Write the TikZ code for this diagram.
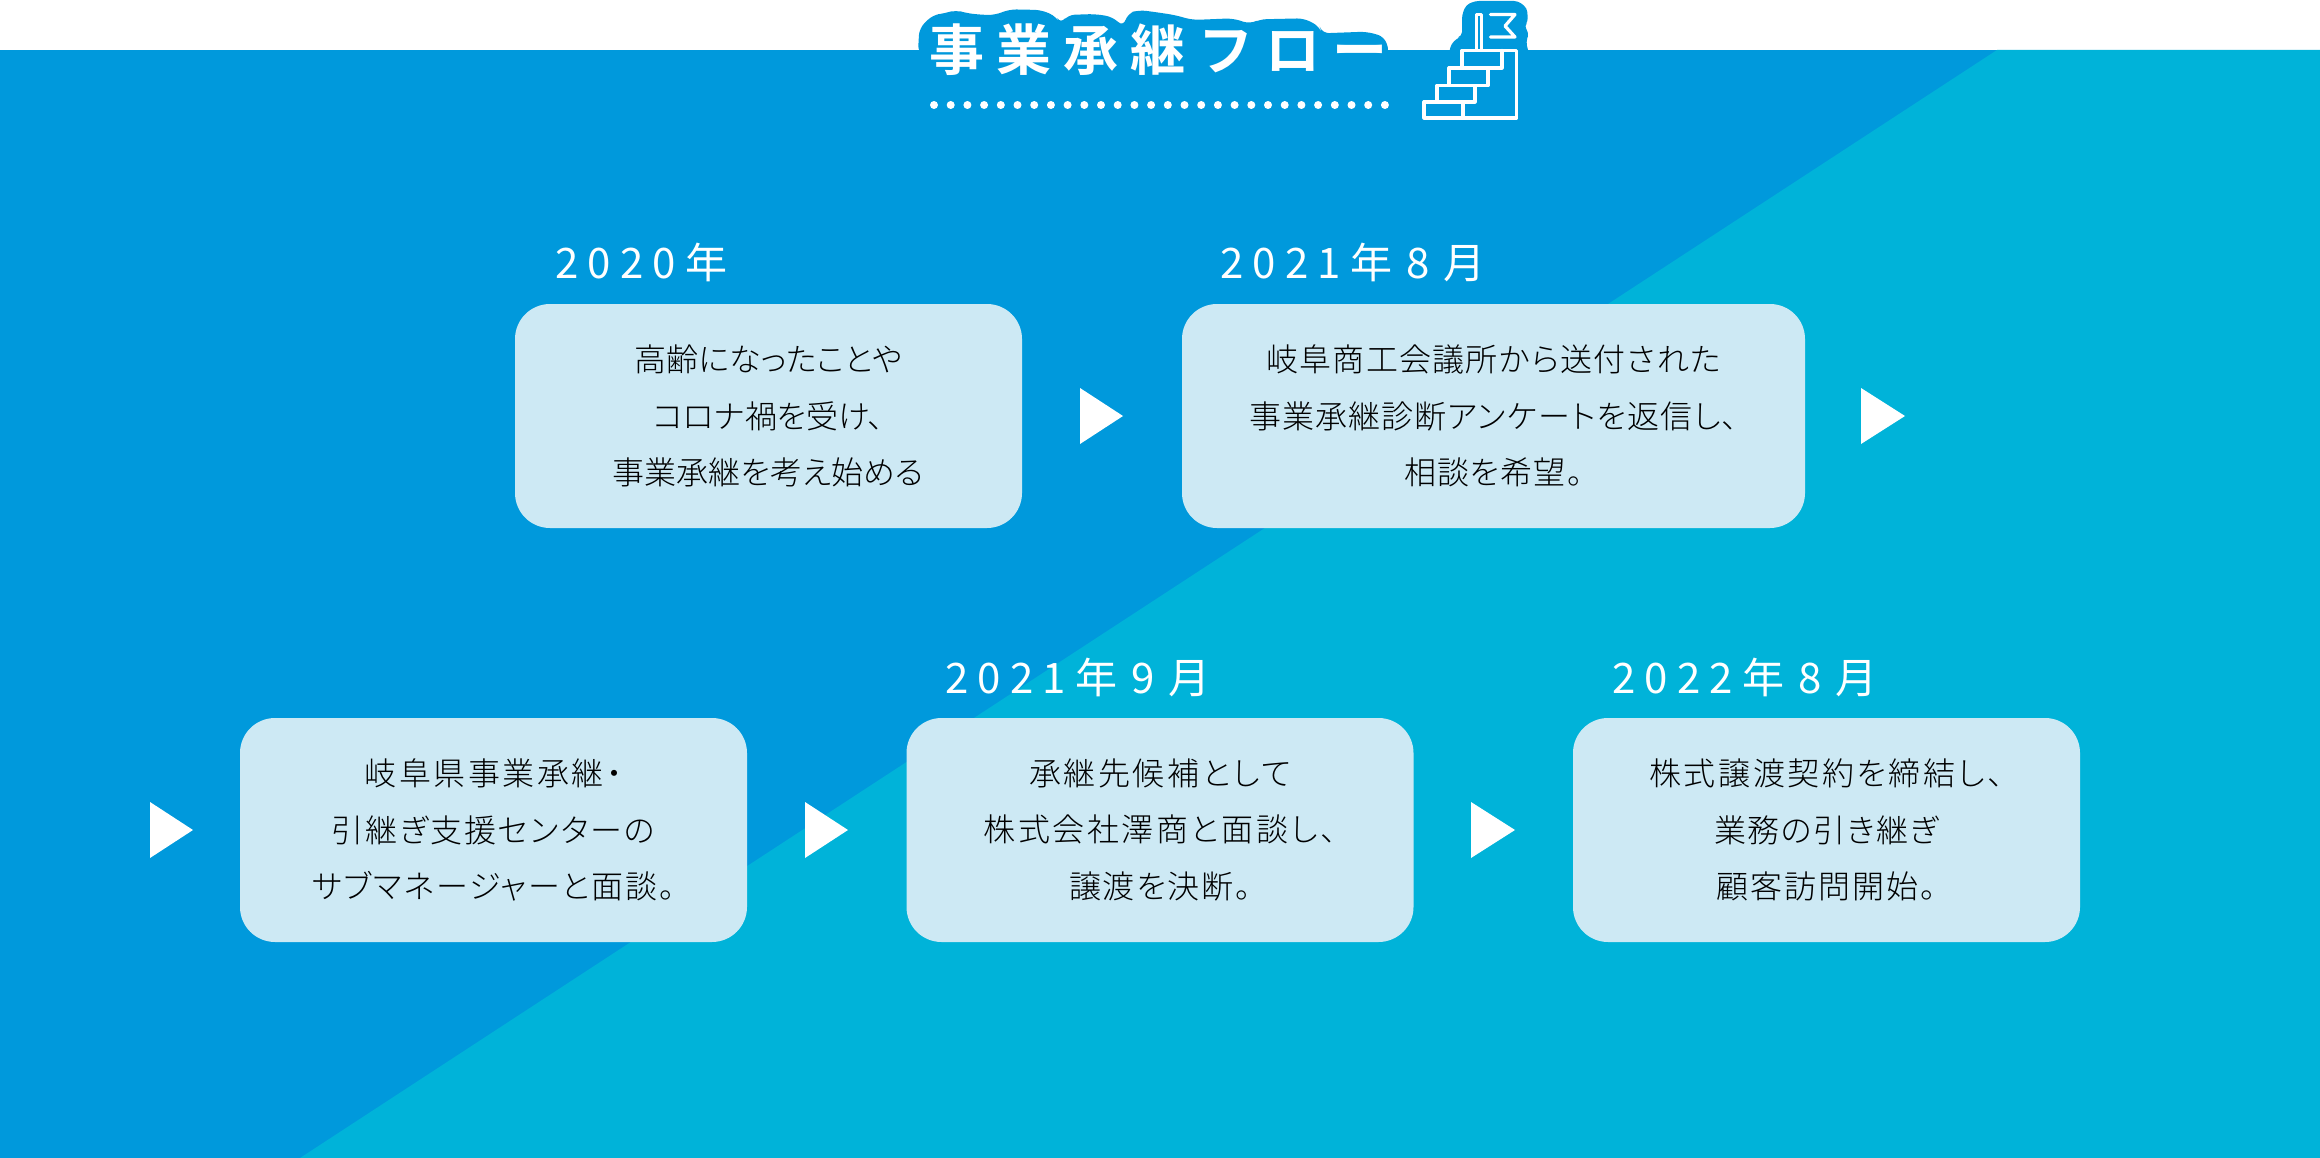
\documentclass[tikz,border=0pt]{standalone}
\usepackage{fontspec}
\newfontfamily\bodyfont[RawFeature=+palt]{Noto Sans CJK JP Light}
\newfontfamily\yearfont[LetterSpace=22]{Noto Sans CJK JP}
\newfontfamily\titlefont[LetterSpace=22]{Noto Sans CJK JP Bold}
\newcommand{\trk}[2]{{\addfontfeature{LetterSpace=#1}#2}}
\newcommand{\yd}[1]{\kern14pt #1\kern14pt\relax}
\definecolor{bgblue}{RGB}{0,153,220}
\definecolor{bgteal}{RGB}{0,179,217}
\definecolor{boxfill}{RGB}{205,233,244}
\definecolor{bodyink}{RGB}{0,0,0}
\tikzset{
  flowbox/.style={fill=boxfill,rounded corners=35pt,minimum width=507pt,minimum height=224pt,inner sep=0pt,align=center,text=bodyink,font=\bodyfont\fontsize{32}{56.5}\selectfont},
  yearlabel/.style={anchor=west,inner sep=0pt,text=white,font=\yearfont\fontsize{42}{50}\selectfont},
  chevron/.style={fill=white},
  stairline/.style={draw=white,line width=3.2pt,line join=round,line cap=round},
  halozoom/.style={x=0.4464pt,y=-0.3333pt,shift={(880pt,0pt)}}
}
\begin{document}
\begin{tikzpicture}[x=1pt,y=-1pt]
\useasboundingbox (0,0) rectangle (2320,1158);
\fill[white] (0,0) rectangle (2320,1158);
\fill[bgblue] (0,50) rectangle (2320,1158);
\fill[bgteal] (1997,50) -- (2320,50) -- (2320,1158) -- (300,1158) -- cycle;
% halo behind title and stairs
\begin{scope}[halozoom]
\fill[bgblue,rounded corners=7pt] (85,160) -- (88,85) -- (118,45) -- (145,40) -- (170,30) -- (195,40) -- (235,45) -- (258,45) -- (290,28) -- (362,30) -- (395,50) -- (405,72) -- (420,45) -- (480,42) -- (520,50) -- (545,80) -- (555,40) -- (580,30) -- (610,35) -- (660,45) -- (700,60) -- (790,55) -- (830,72) -- (850,58) -- (950,55) -- (985,80) -- (990,100) -- (1090,95) -- (1130,110) -- (1142,160) -- cycle;
\end{scope}
\fill[bgblue,rounded corners=4pt] (1449,54) -- (1451,44) -- (1459,37) -- (1462,36) -- (1462,15) -- (1466,5) -- (1475,1) -- (1518,1) -- (1527,8) -- (1528,22) -- (1524,26) -- (1529,33) -- (1526,42) -- (1529,54) -- cycle;
% title
\node[anchor=west,inner sep=0pt,text=white,font=\titlefont\fontsize{55}{60}\selectfont] (title) at (929.5,50) {事業承継フロー};
\coordinate (dotsL) at (934,105);
\coordinate (dotsR) at (1390,105);
\draw[white,line width=8pt,line cap=round,dash pattern=on 0pt off 16.7pt] (dotsL) -- (dotsR);
% stairs icon
\draw[stairline] (1424,118) -- (1424,102) -- (1437,102) -- (1437,85.5) -- (1449,85.5) -- (1449,68) -- (1462,68) -- (1462,50.5) -- (1516.5,50.5) -- (1516.5,118) -- cycle;
\draw[stairline] (1424,102) -- (1475,102) -- (1475,85.5) -- (1437,85.5);
\draw[stairline] (1449,68) -- (1488,68) -- (1488,85.5) -- (1475,85.5);
\draw[stairline] (1488,68) -- (1502,68) -- (1502,50.5);
\draw[stairline] (1463,102) -- (1463,118);
\draw[stairline] (1476.7,50) -- (1476.7,14.5) -- (1481.7,14.5) -- (1481.7,50);
\draw[stairline] (1490.5,14.5) -- (1515,14.5) -- (1505,26) -- (1515,37) -- (1490.5,37);
% boxes
\node[flowbox] (b1) at (768.5,416) {高齢になったことや\\コロナ禍を受け、\\事業承継を考え始める};
\node[flowbox,minimum width=623pt] (b2) at (1493.5,416) {\trk{4}{岐阜商工会議所から送付された}\\\trk{3.5}{事業承継診断アンケートを返信し、}\\\trk{3}{相談を希望。}};
\node[flowbox] (b3) at (493.5,830) {\trk{8}{岐阜県事業承継・}\\\trk{6}{引継ぎ支援センターの}\\\trk{5.5}{サブマネージャーと面談。}};
\node[flowbox] (b4) at (1160,830) {\trk{8}{承継先候補として}\\\trk{8}{株式会社澤商と面談し、}\\\trk{5}{譲渡を決断。}};
\node[flowbox] (b5) at (1826.5,830) {\trk{8}{株式譲渡契約を締結し、}\\\trk{4.5}{業務の引き継ぎ}\\\trk{6}{顧客訪問開始。}};
% year labels
\node[yearlabel] (y1) at (555,262) {2020年};
\node[yearlabel] (y2) at (1220,262) {2021年\yd{8}月};
\node[yearlabel] (y3) at (945,677) {2021年\yd{9}月};
\node[yearlabel] (y4) at (1612,677) {2022年\yd{8}月};
% triangles
\fill[chevron] (1080,388) -- (1123,416) -- (1080,444) -- cycle;
\fill[chevron] (1861,388) -- (1905,416) -- (1861,444) -- cycle;
\fill[chevron] (150,802) -- (193,830) -- (150,858) -- cycle;
\fill[chevron] (805,802) -- (848,830) -- (805,858) -- cycle;
\fill[chevron] (1471,802) -- (1515,830) -- (1471,858) -- cycle;
\end{tikzpicture}
\end{document}
